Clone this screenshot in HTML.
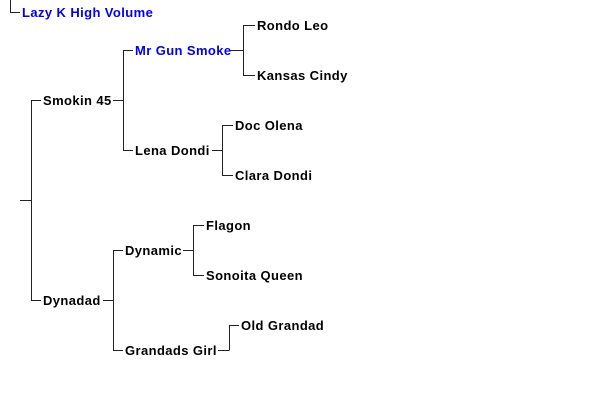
<!DOCTYPE html>
<html><head><style>body{margin:0;background:#fff}svg{display:block}text{font-family:"Liberation Sans",sans-serif;font-weight:bold;font-size:13px;letter-spacing:0.4px;fill:#000}.b{fill:#0000ee}</style></head><body>
<svg width="600" height="400" xmlns="http://www.w3.org/2000/svg">
<g stroke="#222" stroke-width="1" fill="none" shape-rendering="crispEdges">
<path d="M10.5 0V12.5H20"/>
<path d="M20 200.5H31.5M31.5 100V300"/>
<path d="M31 100.5H41M113 100.5H123.5M123.5 50V150"/>
<path d="M123 50.5H133M230 50.5H243.5M243.5 25V75M243 25.5H255M243 75.5H255"/>
<path d="M123 150.5H133M212 150.5H222.5M222.5 125V175M222 125.5H233M222 175.5H233"/>
<path d="M31 300.5H41M103 300.5H113.5M113.5 250V350"/>
<path d="M113 250.5H123M183 250.5H193.5M193.5 225V275M193 225.5H204M193 275.5H204"/>
<path d="M113 350.5H123M218 350.5H229.5M229.5 325V350M229 325.5H239"/>
</g>
<text x="22" y="17" class="b">Lazy K High Volume</text>
<text x="43" y="105">Smokin 45</text>
<text x="135" y="55" class="b">Mr Gun Smoke</text>
<text x="257" y="30">Rondo Leo</text>
<text x="257" y="80">Kansas Cindy</text>
<text x="135" y="155">Lena Dondi</text>
<text x="235" y="130">Doc Olena</text>
<text x="235" y="180">Clara Dondi</text>
<text x="43" y="305">Dynadad</text>
<text x="125" y="255">Dynamic</text>
<text x="206" y="230">Flagon</text>
<text x="206" y="280">Sonoita Queen</text>
<text x="125" y="355">Grandads Girl</text>
<text x="241" y="330">Old Grandad</text>
</svg>
</body></html>
